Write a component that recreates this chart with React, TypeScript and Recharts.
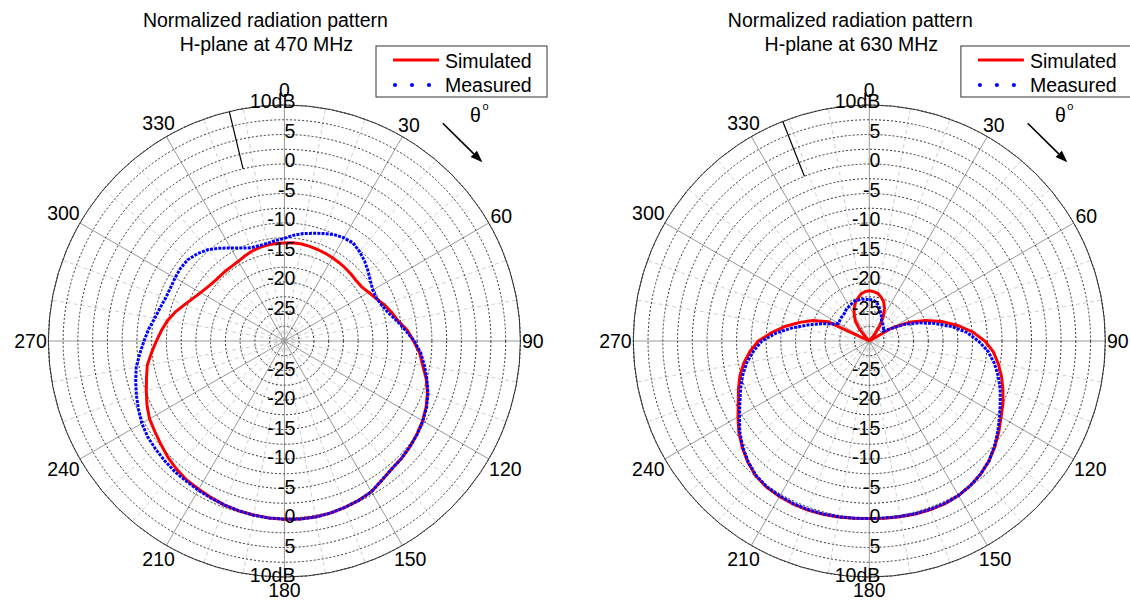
import React from "react";
import {
  RadarChart,
  Radar,
  PolarGrid,
  PolarAngleAxis,
  PolarRadiusAxis,
} from "recharts";

// angle in degrees, clockwise from top
const ANGLES = [
  0, 5, 10, 15, 20, 25, 30, 35, 40, 45, 50, 55, 60, 65, 70, 75, 80, 85, 90, 95,
  100, 105, 110, 115, 120, 125, 130, 135, 140, 145, 150, 155, 160, 165, 170,
  175, 180, 185, 190, 195, 200, 205, 210, 215, 220, 225, 230, 235, 240, 245,
  250, 255, 260, 265, 270, 275, 280, 285, 290, 295, 300, 305, 310, 315, 320,
  325, 330, 335, 340, 345, 350, 355,
];

// 470 MHz
const SIM_470 = [
  -13.4, -13.3, -13.3, -13.4, -13.5, -13.6, -13.7, -13.8, -13.9, -14.0, -14.1,
  -14.0, -13.5, -12.9, -12.0, -11.2, -10.4, -9.1, -8.1, -7.0, -6.2, -5.1, -4.2,
  -3.5, -2.95, -2.55, -2.2, -1.9, -1.7, -1.2, -0.5, -0.2, 0.0, 0.2, 0.3, 0.3,
  0.2, 0.1, -0.05, -0.2, -0.4, -0.7, -1.0, -1.2, -1.6, -2.1, -2.7, -3.2, -3.6,
  -4.3, -5.1, -5.8, -6.4, -7.4, -8.3, -9.1, -9.9, -10.9, -12.0, -12.9, -13.6,
  -14.1, -14.4, -14.5, -14.5, -14.5, -14.4, -14.1, -13.8, -13.6, -13.5, -13.4,
];
const MEAS_470 = [
  -12.6, -12.0, -11.5, -11.1, -10.6, -10.1, -9.8, -9.7, -10.2, -10.8, -11.5,
  -12.2, -12.7, -12.8, -12.4, -11.7, -10.6, -9.4, -8.0, -6.8, -5.9, -5.0, -4.1,
  -3.4, -2.9, -2.5, -2.2, -1.9, -1.7, -1.2, -0.5, -0.2, 0.0, 0.2, 0.3, 0.3, 0.2,
  0.1, 0.0, -0.2, -0.4, -0.6, -0.8, -1.0, -1.1, -1.3, -1.5, -1.7, -2.1, -2.7,
  -3.3, -3.9, -4.5, -5.4, -6.2, -6.9, -7.7, -8.2, -8.6, -8.7, -8.6, -8.5, -8.6,
  -9.1, -9.8, -10.8, -11.8, -12.6, -13.2, -13.3, -13.2, -12.9,
];

// 630 MHz
const SIM_630 = [
  -21.5, -21.6, -21.8, -22.3, -22.9, -23.9, -25.3, -27.0, -28.8, -30, -30, -30,
  -25.6, -22.5, -19.9, -17.3, -14.8, -12.4, -10.4, -8.9, -7.8, -6.8, -5.9, -5.0,
  -4.2, -3.2, -2.2, -1.3, -0.6, -0.1, 0.25, 0.4, 0.4, 0.35, 0.25, 0.15, 0.1,
  0.15, 0.3, 0.4, 0.5, 0.5, 0.45, 0.3, -0.1, -0.9, -1.9, -3.0, -4.3, -5.5, -6.4,
  -7.3, -8.4, -9.7, -11.2, -13.4, -15.6, -17.8, -19.8, -22.3, -30, -30, -30,
  -29.4, -27.5, -25.9, -24.9, -23.9, -23.1, -22.5, -21.9, -21.6,
];
const MEAS_630 = [
  -23.0, -23.0, -23.3, -23.8, -24.6, -25.2, -25.9, -26.2, -26.4, -26.6, -26.9,
  -27.1, -25.8, -23.3, -21.0, -18.5, -15.8, -13.4, -11.5, -9.8, -8.5, -7.4,
  -6.4, -5.5, -4.5, -3.4, -2.3, -1.3, -0.6, -0.1, 0.25, 0.35, 0.35, 0.3, 0.2,
  0.1, 0.1, 0.15, 0.25, 0.35, 0.4, 0.4, 0.35, 0.2, -0.2, -1.0, -2.0, -3.2, -4.6,
  -5.8, -6.8, -7.8, -8.9, -10.3, -11.8, -14.2, -16.9, -19.4, -21.4, -23.2,
  -24.0, -23.9, -23.8, -23.8, -23.6, -23.3, -23.2, -23.0, -22.8, -22.8, -22.8,
  -22.9,
];

const ANGLE_LABELS = [0, 30, 60, 90, 120, 150, 180, 210, 240, 270, 300, 330];
const MINOR_ANGLES = [10, 20, 40, 50, 70, 80, 100, 110, 130, 140, 160, 170, 190, 200, 220, 230, 250, 260, 280, 290, 310, 320, 340, 350];
const RADIUS_TICKS = [
  -30, -27.5, -25, -22.5, -20, -17.5, -15, -12.5, -10, -7.5, -5, -2.5, 0, 2.5,
  5, 7.5, 10,
];
const SERIES = [
  { key: "sim", name: "Simulated", color: "#ff0000" },
  { key: "meas", name: "Measured", color: "#0000ff" },
];

const W = 1130;
const H = 601;
const CY = 341;
const R = 236;
const FONT = "'Liberation Sans', Arial, sans-serif";
const FS = 19.5;

const PANELS = [
  { left: 0, cx: 284.4, freq: "470 MHz", sim: SIM_470, meas: MEAS_470, mark: 346.5 },
  { left: 565, cx: 869.3, freq: "630 MHz", sim: SIM_630, meas: MEAS_630, mark: 338.5 },
];

const rad = (d: number) => (d * Math.PI) / 180;

// distance of a tick label centre so the box sits just outside the circle
const labelDistance = (deg: number, w: number, h: number, gap: number) => {
  const ux = Math.sin(rad(deg));
  const uy = -Math.cos(rad(deg));
  let lo = R;
  let hi = R + 80;
  for (let k = 0; k < 40; k++) {
    const t = (lo + hi) / 2;
    const nx = Math.max(Math.abs(t * ux) - w / 2, 0);
    const ny = Math.max(Math.abs(t * uy) - h / 2, 0);
    if (Math.hypot(nx, ny) < R + gap) lo = t;
    else hi = t;
  }
  return (lo + hi) / 2;
};

const Panel = ({ panel }: { panel: (typeof PANELS)[number] }) => {
  const cx = panel.cx - panel.left;
  const data = ANGLES.map((a, i) => ({ angle: a, sim: panel.sim[i], meas: panel.meas[i] }));

  const angleTick = (props: any) => {
    const v = Number(props.payload?.value);
    if (!ANGLE_LABELS.includes(v)) return <g />;
    const label = String(v);
    const w = label.length * 0.556 * FS;
    const gap = v === 0 ? 8 : v === 180 ? 6 : 1.6;
    const d = labelDistance(v, w, 14, gap);
    const x = cx + d * Math.sin(rad(v));
    const y = CY - d * Math.cos(rad(v));
    return (
      <text x={x} y={y + 7} textAnchor="middle" fontSize={FS} fontFamily={FONT} fill="#000">
        {label}
      </text>
    );
  };

  const radiusTick = (props: any) => {
    const v = Number(props.payload?.value);
    if (v <= -30 || v % 5 !== 0) return <g />;
    const label = v === 10 ? "10dB" : String(v);
    const x = props.x + 11;
    return (
      <g>
        <text x={x} y={props.y + 3} textAnchor="end" fontSize={FS} fontFamily={FONT} fill="#000">
          {label}
        </text>
        <text x={x} y={2 * CY - props.y + 5} textAnchor="end" fontSize={FS} fontFamily={FONT} fill="#000">
          {label}
        </text>
      </g>
    );
  };

  return (
    <div style={{ position: "absolute", left: panel.left, top: 0 }}>
      <RadarChart
        width={565}
        height={H}
        data={data}
        cx={cx}
        cy={CY}
        outerRadius={R}
        startAngle={90}
        endAngle={-270}
        margin={{ top: 0, right: 0, bottom: 0, left: 0 }}
      >
        <PolarGrid
          gridType="circle"
          polarRadius={[0]}
          polarAngles={MINOR_ANGLES}
          stroke="#cfcfcf"
          strokeDasharray="4 3"
        />
        <PolarGrid
          gridType="circle"
          polarRadius={[0]}
          polarAngles={ANGLE_LABELS}
          stroke="#999"
        />
        <PolarGrid gridType="circle" radialLines={false} stroke="#333" strokeDasharray="2 2" />
        <PolarGrid gridType="circle" radialLines={false} polarRadius={[R]} stroke="#333" />
        <PolarAngleAxis dataKey="angle" tick={angleTick} tickLine={false} axisLine={false} />
        <PolarRadiusAxis
          angle={90}
          type="number"
          domain={[-30, 10]}
          ticks={RADIUS_TICKS as any}
          tickCount={17}
          allowDataOverflow
          axisLine={false}
          tickLine={false}
          tick={radiusTick}
        />
        <Radar
          name={SERIES[0].name}
          dataKey={SERIES[0].key}
          stroke={SERIES[0].color}
          strokeWidth={3}
          fill="none"
          fillOpacity={0}
          dot={false}
          isAnimationActive={false}
        />
        <Radar
          name={SERIES[1].name}
          dataKey={SERIES[1].key}
          stroke={SERIES[1].color}
          strokeWidth={3}
          strokeDasharray="3 1.2"
          fill="none"
          fillOpacity={0}
          dot={false}
          isAnimationActive={false}
        />
      </RadarChart>
    </div>
  );
};

const Decorations = () => (
  <svg width={W} height={H} style={{ position: "absolute", left: 0, top: 0, pointerEvents: "none" }}>
    {PANELS.map((p) => {
      const cx = p.cx;
      // arrow for theta direction
      const x1 = cx + 158.4;
      const y1 = 123.3;
      const x2 = cx + 198;
      const y2 = 162.3;
      const len = Math.hypot(x2 - x1, y2 - y1);
      const ux = (x2 - x1) / len;
      const uy = (y2 - y1) / len;
      const hb = { x: x2 - ux * 12, y: y2 - uy * 12 };
      const head = `${x2},${y2} ${hb.x - uy * 4.5},${hb.y + ux * 4.5} ${hb.x + uy * 4.5},${hb.y - ux * 4.5}`;
      const r0 = (R * 30) / 40;
      const ma = rad(p.mark);
      const bx = cx + 91.6;
      return (
        <g key={p.freq} fontFamily={FONT} fill="#000">
          <text x={cx - 19} y={27} textAnchor="middle" fontSize={FS}>
            Normalized radiation pattern
          </text>
          <text x={cx - 18} y={51} textAnchor="middle" fontSize={FS}>
            {`H-plane at ${p.freq}`}
          </text>
          <line
            x1={cx + r0 * Math.sin(ma)}
            y1={CY - r0 * Math.cos(ma)}
            x2={cx + R * Math.sin(ma)}
            y2={CY - R * Math.cos(ma)}
            stroke="#000"
            strokeWidth={1.2}
          />
          <rect x={bx} y={46} width={171} height={51} fill="#fff" stroke="#333" strokeWidth={1} />
          <line x1={bx + 17} y1={60} x2={bx + 63} y2={60} stroke={SERIES[0].color} strokeWidth={3} />
          {[0, 17, 34].map((dx) => (
            <circle key={dx} cx={bx + 19 + dx} cy={85} r={2.1} fill={SERIES[1].color} />
          ))}
          <text x={bx + 69} y={68} fontSize={FS}>
            {SERIES[0].name}
          </text>
          <text x={bx + 69} y={92} fontSize={FS}>
            {SERIES[1].name}
          </text>
          <text x={cx + 185.6} y={122} fontSize={FS}>
            θ
          </text>
          <text x={cx + 198} y={110} fontSize={11}>
            o
          </text>
          <line x1={x1} y1={y1} x2={hb.x} y2={hb.y} stroke="#000" strokeWidth={1.6} />
          <polygon points={head} fill="#000" />
        </g>
      );
    })}
  </svg>
);

export default function App() {
  return (
    <div
      style={{
        position: "absolute",
        left: 0,
        top: 0,
        width: W,
        height: H,
        overflow: "hidden",
        background: "#fff",
      }}
    >
      {PANELS.map((p) => (
        <Panel key={p.freq} panel={p} />
      ))}
      <Decorations />
    </div>
  );
}
